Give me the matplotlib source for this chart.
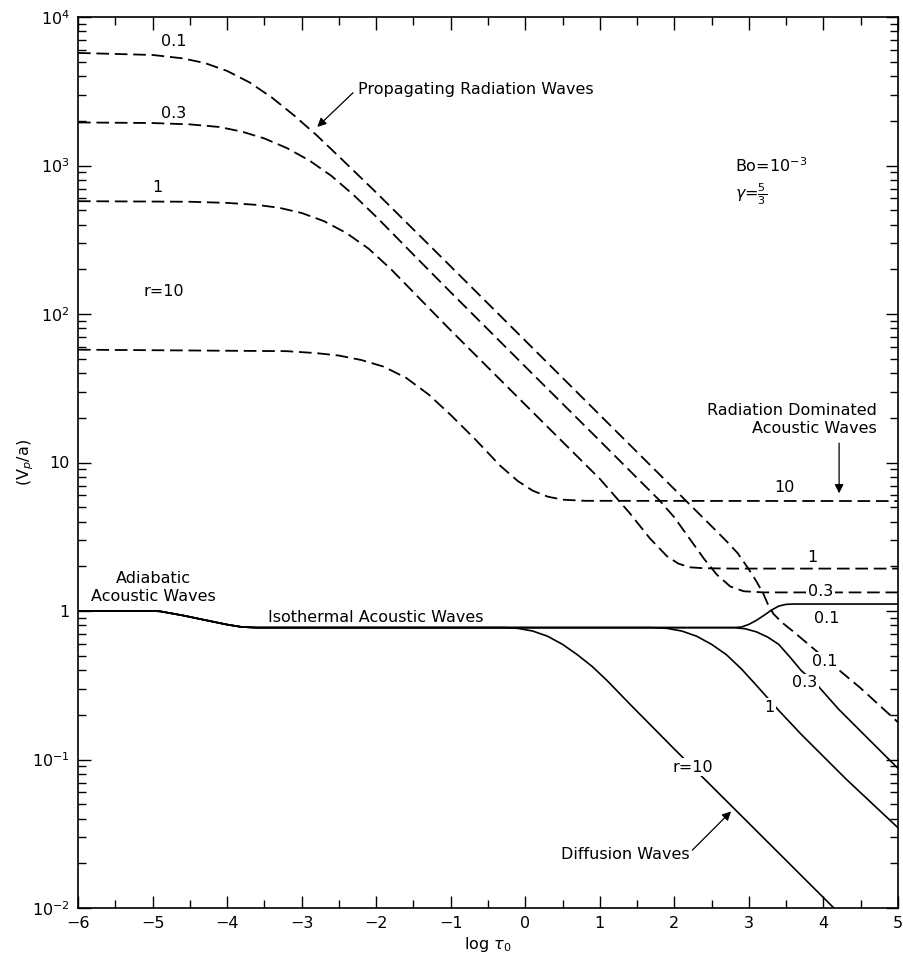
import matplotlib
matplotlib.use("Agg")
import matplotlib.pyplot as plt
from matplotlib.ticker import MultipleLocator, LogLocator, NullFormatter

plt.rcParams['font.family'] = ['DejaVu Sans']
plt.rcParams['mathtext.fontset'] = 'dejavusans'

# ---- phase velocity V_p/a versus log tau_0 ----
# acoustic branch (adiabatic -> isothermal) shared by the solid curves
acoustic_x = [-6.0, -5.0, -4.9, -4.6, -4.3, -4.0, -3.8, -3.6]
acoustic_v = [1.0, 1.0, 0.995, 0.935, 0.87, 0.81, 0.78, 0.773]

# solid curves: departures from the isothermal plateau
solid_r10_x = [-0.3, -0.1, 0.1, 0.3, 0.5, 0.7, 0.9, 1.1, 1.4, 2.0, 3.0, 4.2]
solid_r10_v = [0.773, 0.764, 0.733, 0.676, 0.596, 0.507, 0.422, 0.339, 0.237,
               0.1175, 0.0372, 0.00933]

solid_r1_x = [1.7, 1.9, 2.1, 2.3, 2.5, 2.7, 2.9, 3.1, 3.4, 3.7, 4.3, 5.0]
solid_r1_v = [0.773, 0.764, 0.733, 0.676, 0.596, 0.507, 0.407, 0.316, 0.214,
              0.148, 0.0741, 0.0347]

solid_r03_x = [2.8, 2.95, 3.1, 3.25, 3.4, 3.55, 3.7, 3.9, 4.2, 4.6, 5.0]
solid_r03_v = [0.773, 0.759, 0.724, 0.668, 0.596, 0.490, 0.398, 0.324, 0.219,
               0.138, 0.0871]

solid_r01_x = [2.8, 2.9, 3.0, 3.1, 3.2, 3.3, 3.4, 3.5, 3.6, 5.0]
solid_r01_v = [0.773, 0.780, 0.813, 0.865, 0.933, 1.012, 1.079, 1.109, 1.114, 1.114]

# dashed curves: radiation modes
dash_r01_x = [-6.0, -5.0, -4.6, -4.3, -4.0, -3.7, -3.4, -3.1, -2.8, -2.5, -2.0,
              -1.0, 0.0, 1.0, 2.0, 2.2, 2.5, 2.7, 2.85, 3.0, 3.1, 3.19, 3.26,
              3.33, 3.45, 3.6, 4.0, 4.5, 5.0]
dash_r01_v = [5730, 5550, 5270, 4900, 4335, 3630, 2870, 2170, 1600, 1150, 658,
              209, 66.1, 20.9, 6.61, 5.25, 3.72, 2.95, 2.45, 1.905, 1.585, 1.318, 1.096,
              0.955, 0.832, 0.724, 0.490, 0.302, 0.178]

dash_r03_x = [-6.0, -5.0, -4.5, -4.1, -3.8, -3.5, -3.2, -2.9, -2.6, -2.3, -2.0,
              -1.5, -1.0, 0.0, 1.0, 1.8, 2.0, 2.2, 2.4, 2.57, 2.75, 2.93, 3.2, 5.0]
dash_r03_v = [1950, 1932, 1892, 1816, 1690, 1521, 1312, 1084, 851, 631, 452,
              251, 140, 44.2, 14.0, 5.56, 4.27, 3.09, 2.24, 1.758, 1.462, 1.358,
              1.334, 1.334]

dash_r1_x = [-6.0, -4.5, -4.0, -3.6, -3.3, -3.0, -2.7, -2.4, -2.1, -1.8, -1.4,
             -1.0, 0.0, 1.0, 1.4, 1.67, 1.9, 2.05, 2.2, 2.4, 2.8, 5.0]
dash_r1_v = [575, 570, 560, 543, 519, 479, 422, 351, 275, 200, 124.5,
             77.6, 24.5, 7.76, 4.57, 3.09, 2.34, 2.09, 1.97, 1.94, 1.93, 1.93]

dash_r10_x = [-6.0, -3.2, -2.8, -2.5, -2.2, -1.9, -1.6, -1.3, -1.0, -0.67, -0.34,
              -0.1, 0.1, 0.3, 0.5, 0.8, 5.0]
dash_r10_v = [57.5, 56.2, 54.5, 52.5, 49.0, 44.2, 37.2, 28.8, 20.9, 14.3, 9.55,
              7.50, 6.46, 5.89, 5.62, 5.52, 5.50]

x_ticks = [-6, -5, -4, -3, -2, -1, 0, 1, 2, 3, 4, 5]
y_ticks = [1e-2, 1e-1, 1, 10, 1e2, 1e3, 1e4]
y_tick_labels = [r'$10^{-2}$', r'$10^{-1}$', '1', '10', r'$10^{2}$', r'$10^{3}$', r'$10^{4}$']

fig = plt.figure(figsize=(9.04, 9.68), dpi=100)
ax = fig.add_axes([78 / 904, 60 / 968, 820 / 904, 891 / 968])

solid_kw = dict(color='black', lw=1.2, solid_capstyle='butt', solid_joinstyle='round')
dash_kw = dict(color='black', lw=1.3, linestyle=(0, (7, 3.2)), dash_joinstyle='round')

for bx, bv in [(solid_r10_x, solid_r10_v), (solid_r1_x, solid_r1_v),
               (solid_r03_x, solid_r03_v), (solid_r01_x, solid_r01_v)]:
    ax.plot(acoustic_x + bx, acoustic_v + bv, **solid_kw)

for dx, dv in [(dash_r01_x, dash_r01_v), (dash_r03_x, dash_r03_v),
               (dash_r1_x, dash_r1_v), (dash_r10_x, dash_r10_v)]:
    ax.plot(dx, dv, **dash_kw)

ax.set_yscale('log')
ax.set_xlim(-6, 5)
ax.set_ylim(1e-2, 1e4)
ax.set_xticks(x_ticks)
ax.xaxis.set_minor_locator(MultipleLocator(0.5))
ax.set_yticks(y_ticks)
ax.set_yticklabels(y_tick_labels)
ax.yaxis.set_minor_locator(LogLocator(base=10, subs=range(2, 10)))
ax.yaxis.set_minor_formatter(NullFormatter())
ax.tick_params(which='both', direction='in', top=True, right=True, width=1.0,
               labelsize=11.5, colors='black')
ax.tick_params(which='major', length=9, pad=6)
ax.tick_params(which='minor', length=5.5)
for sp in ax.spines.values():
    sp.set_linewidth(1.2)

ax.set_xlabel(r'log $\tau_0$', fontsize=11.5, labelpad=3)
ax.set_ylabel(r'(V$_p$/a)', fontsize=11.5, labelpad=-3)

fs = 11.5
white = dict(facecolor='white', edgecolor='none', pad=1.0)

# curve labels, dashed family
ax.text(-4.72, 6800, '0.1', fontsize=fs, ha='center', va='center')
ax.text(-4.72, 2240, '0.3', fontsize=fs, ha='center', va='center')
ax.text(-4.93, 710, '1', fontsize=fs, ha='center', va='center')
ax.text(-4.85, 141, 'r=10', fontsize=fs, ha='center', va='center')
ax.text(3.48, 6.8, '10', fontsize=fs, ha='center', va='center')
ax.text(3.85, 2.28, '1', fontsize=fs, ha='center', va='center')
ax.text(3.96, 1.36, '0.3', fontsize=fs, ha='center', va='center', bbox=white, zorder=5)
ax.text(4.02, 0.46, '0.1', fontsize=fs, ha='center', va='center', bbox=white, zorder=5)

# curve labels, solid family
ax.text(4.05, 0.89, '0.1', fontsize=fs, ha='center', va='center')
ax.text(3.75, 0.33, '0.3', fontsize=fs, ha='center', va='center', bbox=white, zorder=5)
ax.text(3.28, 0.225, '1', fontsize=fs, ha='center', va='center', bbox=white, zorder=5)
ax.text(2.25, 0.089, 'r=10', fontsize=fs, ha='center', va='center', bbox=white, zorder=5)

# regime annotations
arrow_kw = dict(arrowstyle='-|>', color='black', lw=0.9, mutation_scale=13,
                shrinkA=0, shrinkB=0)
ax.text(-2.24, 3240, 'Propagating Radiation Waves', fontsize=fs, ha='left', va='center')
ax.annotate('', xy=(-2.79, 1820), xytext=(-2.31, 3090), arrowprops=arrow_kw)

ax.text(4.72, 19.5, 'Radiation Dominated\nAcoustic Waves', fontsize=fs,
        ha='right', va='center', multialignment='right', linespacing=1.25)
ax.annotate('', xy=(4.21, 6.2), xytext=(4.21, 13.5), arrowprops=arrow_kw)

ax.text(-4.99, 1.44, 'Adiabatic\nAcoustic Waves', fontsize=fs, ha='center',
        va='center', multialignment='center', linespacing=1.25)
ax.text(-3.45, 0.91, 'Isothermal Acoustic Waves', fontsize=fs, ha='left', va='center')

ax.text(2.20, 0.0229, 'Diffusion Waves', fontsize=fs, ha='right', va='center')
ax.annotate('', xy=(2.76, 0.0447), xytext=(2.24, 0.0245), arrowprops=arrow_kw)

ax.text(2.81, 1000, r'Bo=10$^{-3}$', fontsize=fs, ha='left', va='center')
ax.text(2.81, 640, r'$\gamma$=$\frac{5}{3}$', fontsize=fs, ha='left', va='center')

fig.savefig('out.png', dpi=100, facecolor='white')
